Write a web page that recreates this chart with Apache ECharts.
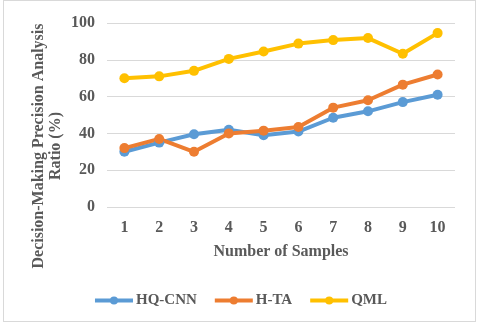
<!DOCTYPE html>
<html><head><meta charset="utf-8">
<script src="https://cdn.jsdelivr.net/npm/echarts@6/dist/echarts.min.js"></script>
<style>html,body{margin:0;padding:0;background:#fff}#c{width:480px;height:325px}
#frame{position:absolute;left:3px;top:0;width:471px;height:320px;border:1px solid #d9d9d9;pointer-events:none}</style>
</head><body><div id="c"></div><div id="frame"></div>
<script>
const categories = ['1','2','3','4','5','6','7','8','9','10'];
const hqcnn = [30, 35, 39.5, 42, 39, 41, 48.5, 52, 57, 61];
const hta = [32, 37, 30, 40, 41.5, 43.5, 54, 58, 66.5, 72];
const qml = [70, 71, 74, 80.5, 84.5, 88.8, 90.7, 91.8, 83.3, 94.5];
const yName = 'Decision-Making Precision Analysis\nRatio (%)';
const xName = 'Number of Samples';
const font = 'Liberation Serif';
const txt = '#595959';
const chart = echarts.init(document.getElementById('c'));
const mk = (name, data, color) => ({
  name, type: 'line', data, symbol: 'circle', symbolSize: 10,
  lineStyle: {width: 4, color}, itemStyle: {color}
});
chart.setOption({
  animation: false,
  textStyle: {fontFamily: font},
  grid: {left: 107, right: 25, top: 23, bottom: 118},
  legend: {
    top: 288, left: 'center', itemWidth: 38, itemHeight: 10, itemGap: 16,
    lineStyle: {width: 4},
    textStyle: {fontFamily: font, fontWeight: 'bold', fontSize: 15, color: txt, padding: [0, 0, 0, -2]},
    data: ['HQ-CNN','H-TA','QML']
  },
  graphic: [{
    type: 'text', x: 47, y: 146, rotation: Math.PI / 2,
    style: {text: yName, fontFamily: font, fontWeight: 'bold', fontSize: 16, fill: txt,
      align: 'center', verticalAlign: 'middle', lineHeight: 17}
  }],
  xAxis: {
    type: 'category', data: categories, boundaryGap: true,
    name: xName, nameLocation: 'middle', nameGap: 37,
    nameTextStyle: {fontFamily: font, fontWeight: 'bold', fontSize: 16, color: txt},
    axisLine: {show: false}, axisTick: {show: false},
    axisLabel: {fontFamily: font, fontWeight: 'bold', fontSize: 16, color: txt, margin: 13}
  },
  yAxis: {
    type: 'value', min: 0, max: 100, interval: 20,
    axisLine: {show: false}, axisTick: {show: false},
    splitLine: {lineStyle: {color: '#d9d9d9', width: 1}},
    axisLabel: {fontFamily: font, fontWeight: 'bold', fontSize: 16, color: txt, margin: 12}
  },
  series: [mk('HQ-CNN', hqcnn, '#5B9BD5'), mk('H-TA', hta, '#ED7D31'), mk('QML', qml, '#FFC000')]
});
</script></body></html>
